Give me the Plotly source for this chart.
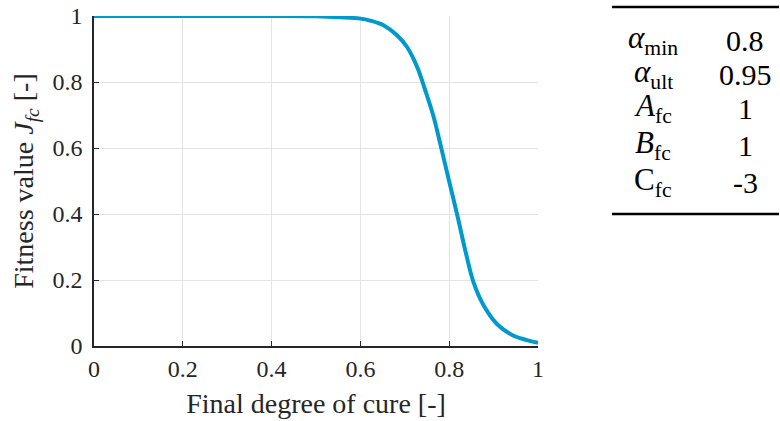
import plotly.graph_objects as go

# Data
cure_degree = [0, 0.1, 0.2, 0.3, 0.4, 0.5, 0.555, 0.6, 0.622, 0.652, 0.683, 0.705,
               0.728, 0.746, 0.765, 0.78, 0.799, 0.818, 0.837, 0.855, 0.878, 0.908,
               0.945, 0.975, 1.0]
fitness = [1, 1, 1, 1, 1, 0.999, 0.996, 0.992, 0.986, 0.972, 0.941, 0.906,
           0.845, 0.775, 0.694, 0.612, 0.504, 0.398, 0.285, 0.192, 0.122, 0.066,
           0.031, 0.018, 0.01]
tick_vals = [0, 0.2, 0.4, 0.6, 0.8, 1]

param_labels = ["<i>α</i><sub>min</sub>", "<i>α</i><sub>ult</sub>",
                "<i>A</i><sub>fc</sub>", "<i>B</i><sub>fc</sub>", "C<sub>fc</sub>"]
param_values = ["0.8", "0.95", "1", "1", "-3"]

LINE = "#0099cc"
TXT = "#262626"
SERIF = "Liberation Serif, DejaVu Serif, serif"

fig = go.Figure()
fig.add_trace(go.Scatter(x=cure_degree, y=fitness, mode="lines",
                         line=dict(color=LINE, width=4, shape="spline", smoothing=1.0),
                         showlegend=False))

axis_common = dict(showgrid=True, gridcolor="#e3e3e3", gridwidth=1,
                   showline=True, linecolor=TXT, linewidth=1.5,
                   ticks="inside", ticklen=5, tickcolor=TXT, tickwidth=1,
                   tickvals=tick_vals, zeroline=False, mirror=False,
                   automargin=False,
                   tickfont=dict(family=SERIF, size=24, color=TXT))

fig.update_xaxes(range=[0, 1], title=dict(text="Final degree of cure [-]",
                 font=dict(family=SERIF, size=28, color=TXT), standoff=13),
                 **axis_common)
fig.update_yaxes(range=[0, 1], title=dict(text="Fitness value <i>J</i><sub><i>fc</i></sub> [-]",
                 font=dict(family=SERIF, size=28, color=TXT), standoff=11),
                 ticklabelstandoff=5, **axis_common)

# Parameter table on the right
def px_x(px):
    return (px - 94) / 444.0

def px_y(py):
    return (346 - py) / 330.0

row_y = [40, 74, 108, 145, 182]
for lab, val, ry in zip(param_labels, param_values, row_y):
    fig.add_annotation(x=px_x(653), y=px_y(ry), xref="paper", yref="paper",
                       text=lab, showarrow=False, xanchor="center", yanchor="middle",
                       font=dict(family=SERIF, size=31, color="black"))
    fig.add_annotation(x=px_x(745), y=px_y(ry), xref="paper", yref="paper",
                       text=val, showarrow=False, xanchor="center", yanchor="middle",
                       font=dict(family=SERIF, size=30, color="black"))

for ry in [7, 214]:
    fig.add_shape(type="line", xref="paper", yref="paper",
                  x0=px_x(612), x1=px_x(779), y0=px_y(ry), y1=px_y(ry),
                  line=dict(color="black", width=2.5))

fig.update_layout(width=780, height=421, paper_bgcolor="white", plot_bgcolor="white",
                  margin=dict(l=94, r=242, t=16, b=75))

fig.write_html("out.html")
